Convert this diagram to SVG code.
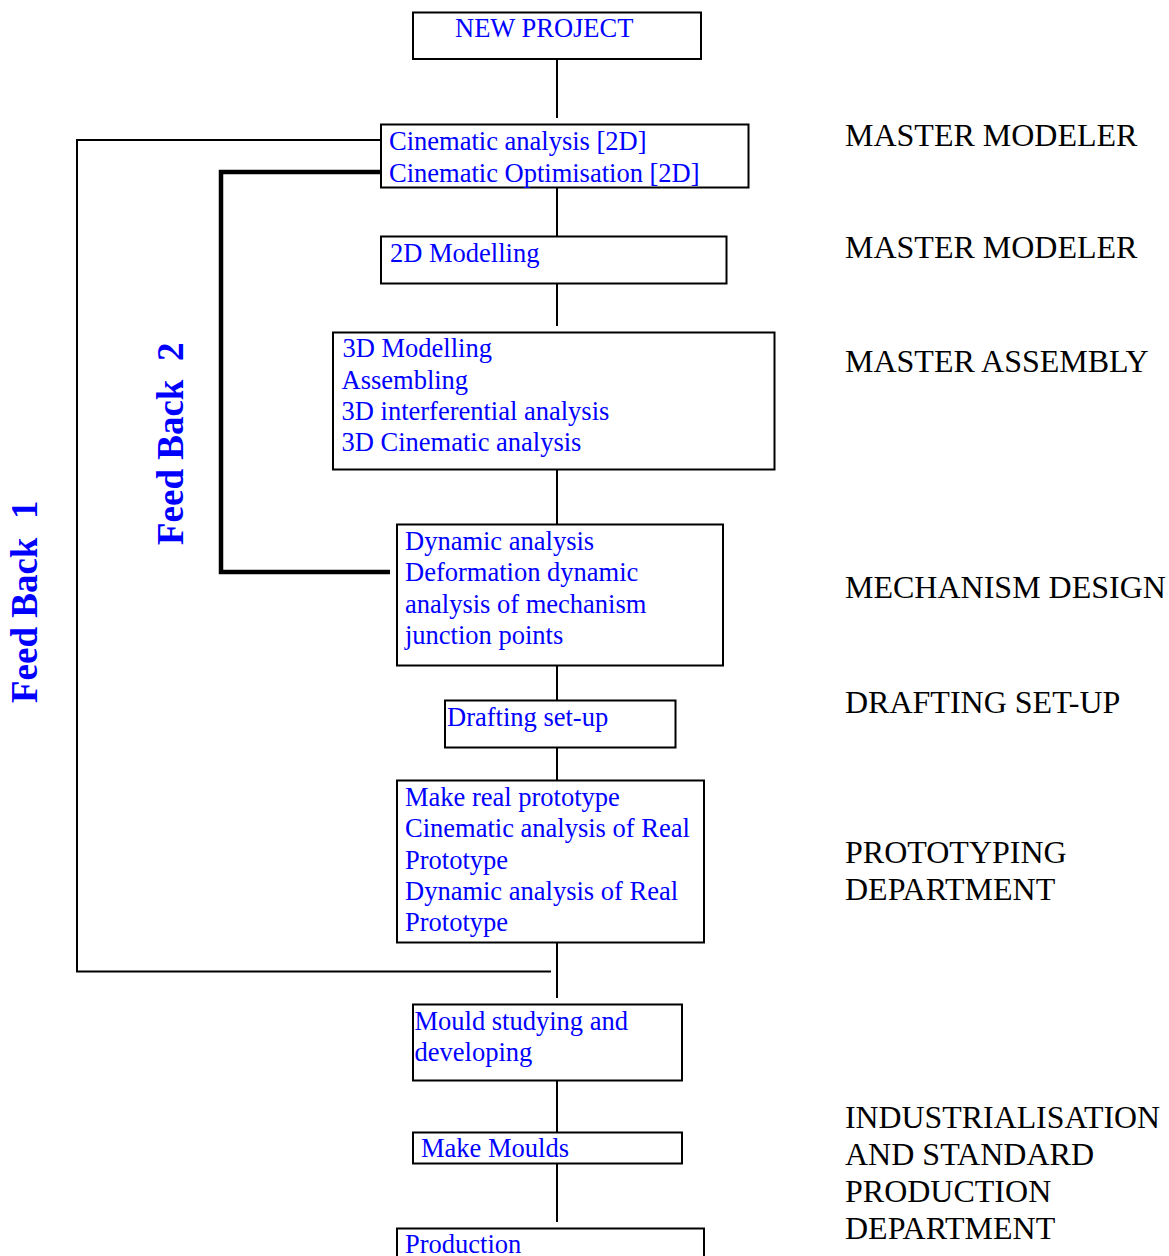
<svg xmlns="http://www.w3.org/2000/svg" width="1169" height="1256" viewBox="0 0 1169 1256">
<style>
.box{fill:#fff;stroke:#000;stroke-width:2}
.t{font-family:"Liberation Serif","Times New Roman",serif;font-size:26.5px;fill:#0000ff}
.r{font-family:"Liberation Serif","Times New Roman",serif;font-size:32px;fill:#000}
.fb{font-family:"Liberation Serif","Times New Roman",serif;font-size:37px;font-weight:bold;fill:#0000ff}
.c{fill:none;stroke:#000;stroke-width:2}
.thick{fill:none;stroke:#000;stroke-width:4.5}
</style>
<rect width="1169" height="1256" fill="#fff"/>
<g id="connectors">
<line class="c" x1="557" y1="59" x2="557" y2="118"/>
<line class="c" x1="557" y1="188" x2="557" y2="236"/>
<line class="c" x1="557" y1="284" x2="557" y2="326"/>
<line class="c" x1="557" y1="469" x2="557" y2="524"/>
<line class="c" x1="557" y1="666" x2="557" y2="700"/>
<line class="c" x1="557" y1="748" x2="557" y2="783"/>
<line class="c" x1="557" y1="940" x2="557" y2="998"/>
<line class="c" x1="557" y1="1080" x2="557" y2="1132"/>
<line class="c" x1="557" y1="1164" x2="557" y2="1222"/>
<polyline id="feedback1" class="c" points="381,140 77,140 77,971.5 551,971.5"/>
<polyline id="feedback2" class="thick" points="381,172 221,172 221,572 390,572"/>
</g>
<g id="n-new-project">
<rect class="box" x="413" y="12.5" width="288" height="46.5"/>
<text class="t" x="455" y="37">NEW PROJECT</text>
</g>
<g id="n-cinematic">
<rect class="box" x="381" y="124.5" width="367.5" height="63"/>
<text class="t" x="389" y="149.5">Cinematic analysis [2D]</text>
<text class="t" x="389" y="181.5">Cinematic Optimisation [2D]</text>
</g>
<g id="n-2d">
<rect class="box" x="381" y="236.5" width="345.5" height="47"/>
<text class="t" x="390" y="261.5">2D Modelling</text>
</g>
<g id="n-3d">
<rect class="box" x="333" y="332.5" width="441.5" height="137"/>
<text class="t" x="342.5" y="357">3D Modelling</text>
<text class="t" x="341.5" y="388.5">Assembling</text>
<text class="t" x="341.5" y="420">3D interferential analysis</text>
<text class="t" x="341.5" y="451">3D Cinematic analysis</text>
</g>
<g id="n-dynamic">
<rect class="box" x="397" y="524.5" width="326" height="141"/>
<text class="t" x="405" y="550">Dynamic analysis</text>
<text class="t" x="405" y="581">Deformation dynamic</text>
<text class="t" x="405" y="613">analysis of mechanism</text>
<text class="t" x="405" y="644">junction points</text>
</g>
<g id="n-drafting">
<rect class="box" x="445" y="700.5" width="230.5" height="47"/>
<text class="t" x="447" y="725.5">Drafting set-up</text>
</g>
<g id="n-prototype">
<rect class="box" x="397" y="780.5" width="307" height="162"/>
<text class="t" x="405" y="806">Make real prototype</text>
<text class="t" x="405" y="837">Cinematic analysis of Real</text>
<text class="t" x="405" y="868.5">Prototype</text>
<text class="t" x="405" y="899.5">Dynamic analysis of Real</text>
<text class="t" x="405" y="931">Prototype</text>
</g>
<g id="n-mould">
<rect class="box" x="413" y="1004.5" width="269" height="76"/>
<text class="t" x="414.5" y="1029.5">Mould studying and</text>
<text class="t" x="414.5" y="1060.5">developing</text>
</g>
<g id="n-make-moulds">
<rect class="box" x="413" y="1132.5" width="269" height="31"/>
<text class="t" x="421" y="1157">Make Moulds</text>
</g>
<g id="n-production">
<rect class="box" x="397" y="1228.5" width="307" height="40"/>
<text class="t" x="405" y="1252.5">Production</text>
</g>
<g id="feedback-labels">
<text class="fb" transform="translate(37,703) rotate(-90)">Feed Back&#160; 1</text>
<text class="fb" transform="translate(183,545) rotate(-90)">Feed Back&#160; 2</text>
</g>
<g id="roles">
<text class="r" x="845" y="146">MASTER MODELER</text>
<text class="r" x="845" y="258">MASTER MODELER</text>
<text class="r" x="845" y="372">MASTER ASSEMBLY</text>
<text class="r" x="845" y="598">MECHANISM DESIGN</text>
<text class="r" x="845" y="713">DRAFTING SET-UP</text>
<text class="r" x="845" y="863">PROTOTYPING</text>
<text class="r" x="845" y="900">DEPARTMENT</text>
<text class="r" x="845" y="1128" textLength="315" lengthAdjust="spacingAndGlyphs">INDUSTRIALISATION</text>
<text class="r" x="845" y="1165">AND STANDARD</text>
<text class="r" x="845" y="1202">PRODUCTION</text>
<text class="r" x="845" y="1239">DEPARTMENT</text>
</g>
</svg>
